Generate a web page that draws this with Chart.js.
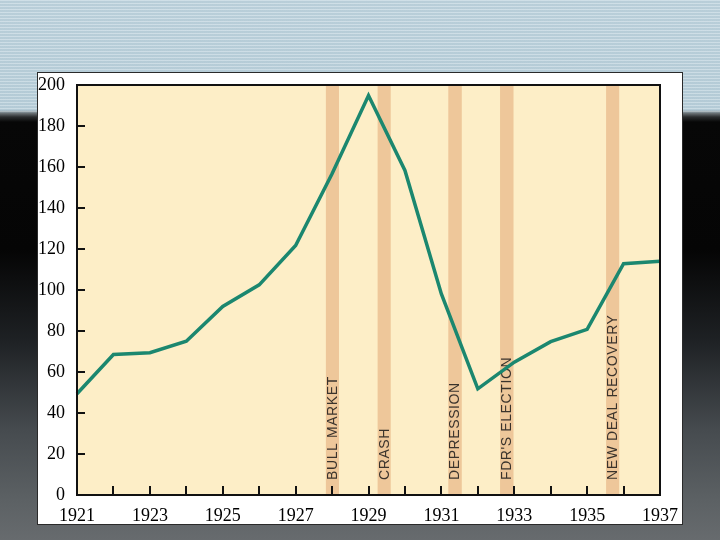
<!DOCTYPE html>
<html><head><meta charset="utf-8">
<script src="https://cdn.jsdelivr.net/npm/chart.js@4.4.0/dist/chart.umd.min.js"></script>
<style>
html,body{margin:0;padding:0;width:720px;height:540px;overflow:hidden}
body{position:relative;background:linear-gradient(to bottom,#c2d6e0 0px,#bcd2dd 110px,#70777b 113px,#2a2c2e 117px,#070707 122px,#050505 250px,#1e2124 340px,#464b4f 430px,#5c6164 500px,#676b6e 540px)}
#sky{position:absolute;left:0;top:0;width:720px;height:113px;background:repeating-linear-gradient(to bottom,rgba(255,255,255,0.22) 0px,rgba(255,255,255,0.22) 1px,rgba(120,150,165,0.12) 1px,rgba(120,150,165,0.12) 3px)}
#panel{position:absolute;left:37px;top:72px;width:644px;height:451px;background:#fff;border:1px solid #2a2a2a}
#wrap{position:absolute;left:0;top:0;width:720px;height:540px}
</style></head>
<body><div id="sky"></div><div id="panel"></div><div id="wrap"><canvas id="c" width="720" height="540"></canvas></div>
<script>
const years = [1921,1922,1923,1924,1925,1926,1927,1928,1929,1930,1931,1932,1933,1934,1935,1936,1937];
const values = [49.4,68.5,69.4,75,92,102.5,121.7,156.7,194.9,158.3,98.1,51.8,64.8,74.8,80.8,112.8,114];
const bandLabels = ['BULL MARKET','CRASH','DEPRESSION',"FDR'S ELECTION",'NEW DEAL RECOVERY'];
const bandStart = [1927.83,1929.25,1931.19,1932.61,1935.52];
const bandEnd = [1928.19,1929.61,1931.56,1932.98,1935.88];
const xMin = 1921, xMax = 1937, yMin = 0, yMax = 200, yStep = 20;

const framePlugin = {
  id: 'frame',
  beforeDatasetsDraw(chart) {
    const {ctx, chartArea: a, scales: {x}} = chart;
    ctx.save();
    ctx.fillStyle = '#fdeec7';
    ctx.fillRect(a.left, a.top, a.right - a.left, a.bottom - a.top);
    ctx.fillStyle = '#eec79a';
    for (let i = 0; i < bandLabels.length; i++) {
      const x0 = x.getPixelForValue(bandStart[i]);
      const x1 = x.getPixelForValue(bandEnd[i]);
      ctx.fillRect(x0, a.top, x1 - x0, a.bottom - a.top);
    }
    ctx.fillStyle = '#3a332c';
    ctx.font = '14px "Liberation Sans", Arial, sans-serif';
    try { ctx.letterSpacing = '0.6px'; } catch (e) {}
    ctx.textAlign = 'left';
    ctx.textBaseline = 'middle';
    for (let i = 0; i < bandLabels.length; i++) {
      const cx = (x.getPixelForValue(bandStart[i]) + x.getPixelForValue(bandEnd[i])) / 2;
      ctx.save();
      ctx.translate(cx + 0.5, a.bottom - 15);
      ctx.rotate(-Math.PI / 2);
      ctx.fillText(bandLabels[i], 0, 0);
      ctx.restore();
    }
    ctx.restore();
  },
  afterDatasetsDraw(chart) {
    const {ctx, chartArea: a, scales: {x, y}} = chart;
    ctx.save();
    ctx.strokeStyle = '#111';
    ctx.lineWidth = 2;
    ctx.beginPath();
    for (let v = yMin; v <= yMax; v += yStep) {
      const py = Math.round(y.getPixelForValue(v));
      ctx.moveTo(a.left, py); ctx.lineTo(a.left + 8, py);
    }
    for (let v = xMin; v <= xMax; v++) {
      const px = Math.round(x.getPixelForValue(v));
      ctx.moveTo(px, a.bottom); ctx.lineTo(px, a.bottom - 9);
    }
    ctx.stroke();
    ctx.lineWidth = 2;
    ctx.strokeRect(a.left, a.top, a.right - a.left, a.bottom - a.top);
    ctx.restore();
  }
};

new Chart(document.getElementById('c'), {
  type: 'line',
  data: {
    datasets: [{
      data: years.map((yr, i) => ({x: yr, y: values[i]})),
      borderColor: '#1b876f',
      borderWidth: 3.5,
      pointRadius: 0,
      tension: 0,
      borderJoinStyle: 'miter',
      clip: false
    }]
  },
  options: {
    responsive: false,
    animation: false,
    devicePixelRatio: 1,
    layout: {padding: {left: 0, top: 85, right: 60, bottom: 0}},
    plugins: {legend: {display: false}, tooltip: {enabled: false}},
    scales: {
      x: {
        type: 'linear', min: xMin, max: xMax,
        grid: {display: false, drawTicks: false},
        border: {display: false},
        ticks: {
          stepSize: 1, autoSkip: false, maxRotation: 0, padding: 10,
          color: '#000',
          font: {family: '"Liberation Serif", "Times New Roman", serif', size: 18},
          callback: v => (v % 2 === 1 ? String(v) : '')
        },
        afterFit: s => { s.height = 45; }
      },
      y: {
        min: yMin, max: yMax,
        grid: {display: false, drawTicks: false},
        border: {display: false},
        ticks: {
          stepSize: yStep, padding: 12, color: '#000',
          font: {family: '"Liberation Serif", "Times New Roman", serif', size: 18}
        },
        afterFit: s => { s.width = 77; }
      }
    }
  },
  plugins: [framePlugin]
});
</script>
</body></html>
